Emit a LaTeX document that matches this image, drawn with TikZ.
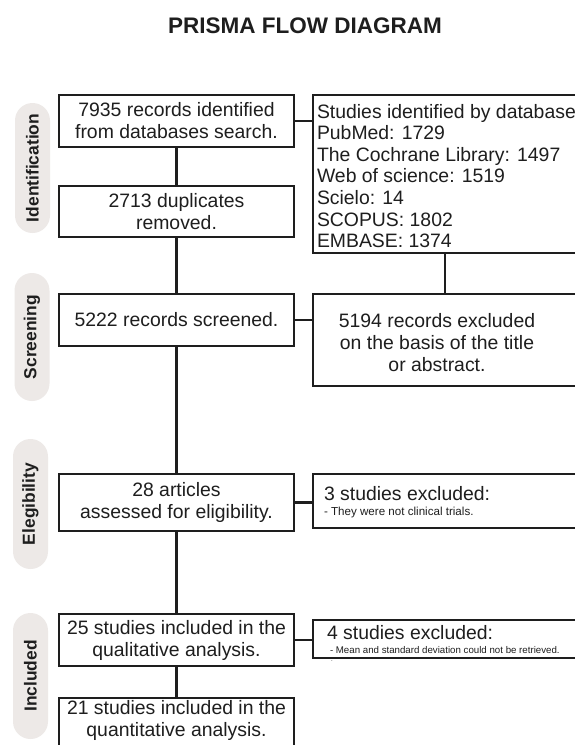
\documentclass[tikz,border=0pt]{standalone}
\usepackage{fontspec}
\setmainfont{Liberation Sans}
\definecolor{ink}{HTML}{1E1E1E}
\definecolor{pillgray}{HTML}{EDE9E7}
\tikzset{
  box/.style={draw=ink, line width=2.2pt, fill=white, inner sep=0pt, outer sep=0pt,
    align=center, text=ink, font=\fontsize{19.4}{22}\selectfont},
  txt/.style={inner sep=0pt, outer sep=0pt, text=ink, font=\fontsize{19.4}{22}\selectfont},
  phase/.style={fill=pillgray, rounded corners=17.5pt, rotate=90, minimum height=35pt,
    inner sep=0pt, text=ink, font=\bfseries\fontsize{17.4}{20}\selectfont},
  link/.style={draw=ink, line width=2.2pt}
}
\begin{document}
\begin{tikzpicture}[x=1pt,y=-1pt]
\useasboundingbox (0,0) rectangle (575,745);
\clip (0,0) rectangle (575,745);
\fill[white] (0,0) rectangle (575,745);

\node[inner sep=0pt, text=ink, anchor=base, font=\bfseries\fontsize{22.5}{26}\selectfont] (title) at (305,33) {PRISMA FLOW DIAGRAM};

% phase pills
\node[phase, minimum width=130pt] (p1) at (32.5,168) {Identification};
\node[phase, minimum width=128pt] (p2) at (32,337) {Screening};
\node[phase, minimum width=130pt] (p3) at (30.5,504) {Elegibility};
\node[phase, minimum width=126pt] (p4) at (30.5,676) {Included};

% right boxes
\node[box, minimum width=400pt, minimum height=158pt, anchor=north west] (r1) at (313,95) {};
\node[box, minimum width=400pt, minimum height=92pt, anchor=north west] (r2) at (313,294) {};
\node[box, minimum width=400pt, minimum height=54pt, anchor=north west] (r3) at (313,474) {};
\node[box, minimum width=400pt, minimum height=38pt, anchor=north west] (r4) at (313,620) {};

% left boxes
\node[box, minimum width=235pt, minimum height=52pt] (b1) at (176.5,121) {7935 records identified\\from databases search.};
\node[box, minimum width=235pt, minimum height=51pt] (b2) at (176.5,211.5) {2713 duplicates\\removed.};
\node[box, minimum width=235pt, minimum height=52pt] (b3) at (176.5,320) {5222 records screened.};
\node[box, minimum width=235pt, minimum height=57pt] (b4) at (176.5,502.5) {28 articles\\assessed for eligibility.};
\node[box, minimum width=235pt, minimum height=52pt] (b5) at (176.5,640) {25 studies included in the\\qualitative analysis.};
\node[box, minimum width=235pt, minimum height=70pt, anchor=north] (b6) at (176.5,698) {};
\node[txt, align=center] (b6t) at (176.5,720) {21 studies included in the\\quantitative analysis.};

% right texts
\node[txt, align=left, anchor=north west, font=\fontsize{19.4}{21.6}\selectfont] (r1t) at (317,104) {Studies identified by database\\PubMed: 1729\\The Cochrane Library: 1497\\Web of science: 1519\\Scielo: 14\\SCOPUS: 1802\\EMBASE: 1374};
\node[txt, align=center] (r2t) at (437,343) {5194 records excluded\\on the basis of the title\\or abstract.};
\node[txt, anchor=base west] (r3t) at (324,500) {3 studies excluded:};
\node[txt, anchor=base west, font=\fontsize{11.6}{13}\selectfont] (r3s) at (324,515.5) {- They were not clinical trials.};
\node[txt, anchor=base west] (r4t) at (327,639) {4 studies excluded:};
\node[txt, anchor=base west, font=\fontsize{9.7}{11}\selectfont] (r4s) at (330,653.5) {- Mean and standard deviation could not be retrieved.};
\node[txt, font=\fontsize{6}{7}\selectfont] (dot) at (332,661) {.};

% connectors
\coordinate (rx) at (445,0);
\draw[link] (b1.south) -- (b2.north);
\draw[link] (b2.south) -- (b3.north);
\draw[link] (b3.south) -- (b4.north);
\draw[link] (b4.south) -- (b5.north);
\draw[link] (b5.south) -- (b6.north);
\draw[link] (b1.east) -- (b1.east -| r1.west);
\draw[link] (r1.south -| rx) -- (r2.north -| rx);
\draw[link] (b3.east) -- (b3.east -| r2.west);
\draw[link] (b4.east) -- (b4.east -| r3.west);
\draw[link] (b5.east) -- (b5.east -| r4.west);
\end{tikzpicture}
\end{document}
